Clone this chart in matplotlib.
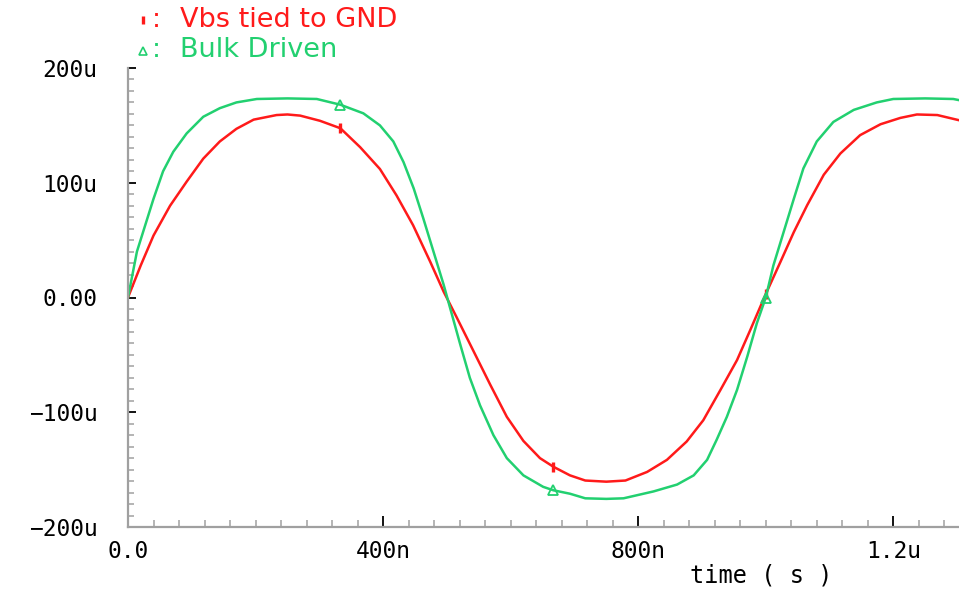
import matplotlib.pyplot as plt
from matplotlib.lines import Line2D
from matplotlib.ticker import MultipleLocator

# time in ns, current in uA
t_red = [0, 20, 40, 66, 92, 118, 144, 170, 197, 233, 250, 270, 301, 333, 364,
         395, 421, 447, 474, 495, 516, 542, 568, 594, 620, 646, 667, 693, 717,
         750, 780, 814, 845, 876, 902, 929, 955, 976, 1000, 1023, 1044, 1065,
         1091, 1117, 1148, 1180, 1211, 1237, 1269, 1303]
v_red = [0, 28, 54, 80, 101, 121, 136, 147, 155, 159, 159.5, 158.5, 154, 147.5,
         131, 112, 89, 63, 31, 5, -18, -47, -76, -104, -125, -140, -147.5, -155,
         -159.5, -160.5, -159.5, -152, -141.5, -125.5, -107, -80.5, -54.5, -28,
         3, 31, 57, 80.5, 107, 125.5, 141.5, 151, 156.5, 159.5, 159, 154.5]

t_green = [0, 14, 27, 40, 55, 71, 92, 118, 144, 170, 202, 250, 296, 333, 369,
           395, 416, 432, 448, 463, 479, 495, 505, 521, 536, 552, 573, 594, 620,
           651, 667, 693, 717, 750, 777, 824, 861, 887, 908, 923, 939, 955, 971,
           986, 1000, 1012, 1028, 1044, 1059, 1080, 1106, 1138, 1174, 1200, 1250,
           1294, 1303]
v_green = [0, 40, 63, 86, 110, 127, 143, 157.5, 165, 170, 173, 173.5, 173, 168,
           160.5, 150, 136, 118, 95, 69, 40, 11, -9, -41, -70, -94, -120, -140,
           -155, -165, -168, -171, -175, -175.5, -175, -169, -163, -155, -141.5,
           -124, -104, -80.5, -51.5, -22.5, 0, 28, 57, 86, 112.5, 136, 153, 163.5,
           170, 173, 173.5, 173, 172]

mark_t = [333, 667, 1000]

xticks = [0, 400, 800, 1200]
xlabels = ["0.0", "400n", "800n", "1.2u"]
yticks = [-200, -100, 0, 100, 200]
ylabels = ["\u2212200u", "\u2212100u", "0.00", "100u", "200u"]

red = "#ff1a1a"
green = "#22d070"

fig = plt.figure(figsize=(9.59, 5.90), dpi=100)
ax = fig.add_axes([128 / 959, 63 / 590, 831 / 959, 459 / 590])

ax.plot(t_red, v_red, color=red, lw=1.8, marker="|", ms=7, mew=2.4,
        markevery=[t_red.index(t) for t in mark_t])
ax.plot(t_green, v_green, color=green, lw=1.8, marker="^", ms=6.5, mew=1.3,
        mfc="none", markevery=[t_green.index(t) for t in mark_t])

ax.set_xlim(0, 1303)
ax.set_ylim(-200, 200)

for s in ["top", "right"]:
    ax.spines[s].set_visible(False)
for s in ["left", "bottom"]:
    ax.spines[s].set_color("#a0a0a0")
    ax.spines[s].set_linewidth(1.6)

ax.set_xticks(xticks)
ax.set_xticklabels(xlabels)
ax.set_yticks(yticks)
ax.set_yticklabels(ylabels)
ax.xaxis.set_minor_locator(MultipleLocator(40))
ax.yaxis.set_minor_locator(MultipleLocator(10))

ax.tick_params(axis="both", which="major", direction="in", color="black",
               width=1.3, labelsize=16.5)
ax.tick_params(axis="both", which="minor", direction="in", color="#a0a0a0",
               width=1.1)
ax.tick_params(axis="x", which="major", length=8, pad=9)
ax.tick_params(axis="x", which="minor", length=5)
ax.tick_params(axis="y", which="major", length=6, pad=22)
ax.tick_params(axis="y", which="minor", length=4)
for lab in ax.get_xticklabels() + ax.get_yticklabels():
    lab.set_family("DejaVu Sans Mono")

fig.text(761 / 959, 1 - 575 / 590, "time ( s )", fontsize=17,
         family="DejaVu Sans Mono", ha="center", va="center")

# legend at the top
fig.add_artist(Line2D([143 / 959], [1 - 20 / 590], transform=fig.transFigure,
                      color=red, marker="|", ms=6, mew=2.4, ls="none"))
fig.add_artist(Line2D([143 / 959], [1 - 51 / 590], transform=fig.transFigure,
                      color=green, marker="^", ms=6, mew=1.2, mfc="none",
                      ls="none"))
fig.text(152 / 959, 1 - 20 / 590, ":", color=red, fontsize=19, va="center")
fig.text(152 / 959, 1 - 50 / 590, ":", color=green, fontsize=19, va="center")
fig.text(180 / 959, 1 - 20 / 590, "Vbs tied to GND", color=red, fontsize=19.5,
         va="center")
fig.text(180 / 959, 1 - 50 / 590, "Bulk Driven", color=green, fontsize=19.5,
         va="center")

fig.savefig("out.png", dpi=100)
